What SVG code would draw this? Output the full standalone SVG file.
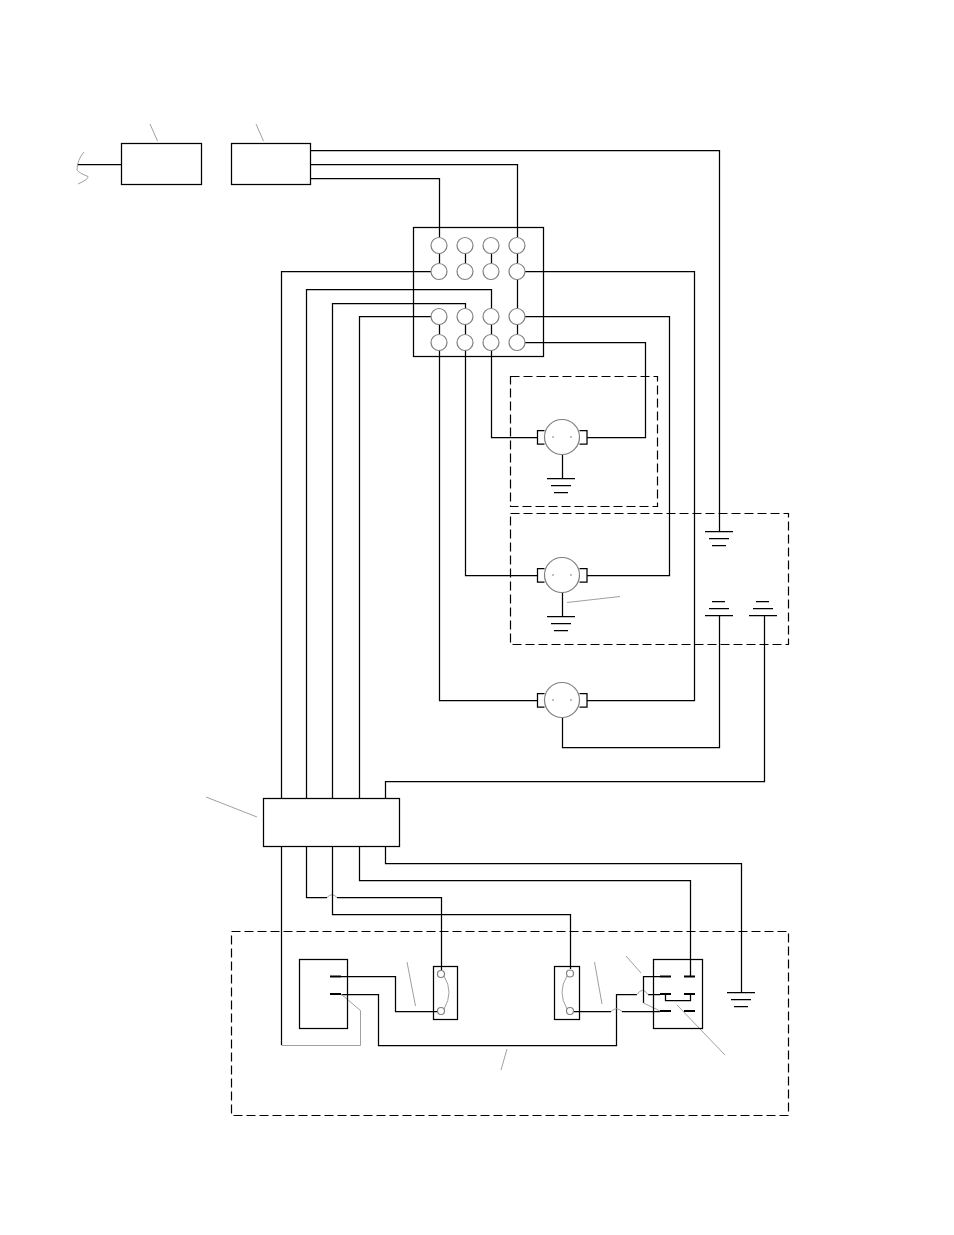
<svg xmlns="http://www.w3.org/2000/svg" width="954" height="1235" viewBox="0 0 954 1235">
<style>
.k{fill:none;stroke:#000;stroke-width:1.25}
.f{fill:#fff;stroke:#000;stroke-width:1.25}
.d{fill:none;stroke:#000;stroke-width:1.2;stroke-dasharray:9 4}
.g{fill:none;stroke:#a0a0a0;stroke-width:1}
.c{fill:#fff;stroke:#808080;stroke-width:1.2}
.t{fill:none;stroke:#000;stroke-width:2}
.p{fill:#aaa;stroke:none}
</style>
<defs>
<g id="gnd"><path class="k" d="M-14 0.500H14M-10 7.500H10M-7 14.500H7"/></g>
<g id="gndup"><path class="k" d="M-14 0.500H14M-10 -6.500H10M-7 -13.500H6"/></g>
<g id="motor">
<path class="k" d="M-17.500 -6.500H-24.500V7H-17.500M17.500 -6.500H25V7H17.500"/>
<circle class="c" r="17.500"/>
<circle class="p" cx="-9" r="1"/><circle class="p" cx="9" r="1"/>
</g>
</defs>
<rect width="954" height="1235" fill="#fff"/>
<g id="enclosures">
<rect class="d" x="510.500" y="376.500" width="147" height="130"/>
<rect class="d" x="510.500" y="513.500" width="278" height="131"/>
<rect class="d" x="231.500" y="931.500" width="557" height="184"/>
</g>
<g id="terminal-frame"><rect class="k" x="413.500" y="227.500" width="130" height="129"/></g>
<g id="connectors">
<path class="k" d="M77 164.500H121.500"/>
<path class="k" d="M310.500 150.500H719.500V531.500"/>
<path class="k" d="M310.500 164.500H517.500V237"/>
<path class="k" d="M310.500 178.500H439.500V237"/>
<path class="k" d="M439.500 253V263M465.500 253V263M491.500 253V263M517.500 253V263M517.500 279V308M439.500 324V334M465.500 324V334M491.500 324V334M517.500 324V334"/>
<path class="k" d="M281.500 798.500V271.500H431"/>
<path class="k" d="M306.500 798.500V289.500H491.500V308"/>
<path class="k" d="M332.500 798.500V303.500H465.500V308"/>
<path class="k" d="M359.500 798.500V316.500H431"/>
<path class="k" d="M525 271.500H694.500V700.500H587"/>
<path class="k" d="M525 316.500H669.500V575.500H587"/>
<path class="k" d="M525 342.500H645.500V437.500H587"/>
<path class="k" d="M439.500 350V700.500H537"/>
<path class="k" d="M465.500 350V575.500H537"/>
<path class="k" d="M491.500 350V437.500H537"/>
<path class="k" d="M562.500 455V478M562.500 593V616"/>
<path class="k" d="M562.500 717.500V747.500H719.500V615.500"/>
<path class="k" d="M764.500 615.500V781.500H385.500V798.500"/>
<path class="k" d="M281.500 846.500V1045"/>
<path class="k" d="M306.500 846.500V897.500H327M337 897.500H441.500V970"/>
<path class="g" d="M327 897.500Q332 892 337 897.500"/>
<path class="k" d="M332.500 846.500V914.500H570.500V969"/>
<path class="k" d="M359.500 846.500V880.500H690.500V976"/>
<path class="k" d="M385.500 846.500V863.500H741.500V992"/>
<path class="k" d="M341 976.500H395.500V1011.500H437"/>
<path class="k" d="M341 994.500H378.500V1045.500H616.500V994.500H637M648 994.500H660"/>
<path class="g" d="M637 994.500Q642.500 986 648 994.500"/>
<path class="k" d="M574 1011.500H611M622 1011.500H660"/>
<path class="g" d="M611 1011.500Q616.500 1006 622 1011.500"/>
<path class="k" d="M660 976.500H643.500V1003"/>
<path class="g" d="M643.500 1003L660 1011"/>
<path class="k" d="M665.500 994.500V1000.500H690.500V994.500"/>
<path class="g" d="M281.500 1045.500H360.500V1010.500L341 994"/>
</g>
<g id="leaders">
<path class="g" d="M150 124L157.500 141M256 124L263.500 141M206 797L257 817M407 962L415.500 1006M594.500 962L602 1004M626 956L641 973M677 1005L725 1055M507 1049L501 1070M567 602.500L620 596.500"/>
<path class="g" d="M84 152Q77 160 77 170Q79 173 88 176.500Q89 179 78 184"/>
</g>
<g id="box-1"><rect class="f" x="121.500" y="143.500" width="80" height="41"/></g>
<g id="box-2"><rect class="f" x="231.500" y="143.500" width="79" height="41"/></g>
<g id="terminals">
<circle class="c" cx="439" cy="245.500" r="8"/><circle class="c" cx="465" cy="245.500" r="8"/><circle class="c" cx="491" cy="245.500" r="8"/><circle class="c" cx="517" cy="245.500" r="8"/>
<circle class="c" cx="439" cy="271.500" r="8"/><circle class="c" cx="465" cy="271.500" r="8"/><circle class="c" cx="491" cy="271.500" r="8"/><circle class="c" cx="517" cy="271.500" r="8"/>
<circle class="c" cx="439" cy="316.500" r="8"/><circle class="c" cx="465" cy="316.500" r="8"/><circle class="c" cx="491" cy="316.500" r="8"/><circle class="c" cx="517" cy="316.500" r="8"/>
<circle class="c" cx="439" cy="342.500" r="8"/><circle class="c" cx="465" cy="342.500" r="8"/><circle class="c" cx="491" cy="342.500" r="8"/><circle class="c" cx="517" cy="342.500" r="8"/>
</g>
<g id="motor-1"><use href="#motor" x="562" y="437"/></g>
<g id="motor-2"><use href="#motor" x="562" y="575"/></g>
<g id="motor-3"><use href="#motor" x="562" y="700"/></g>
<g id="ground-1"><use href="#gnd" x="561" y="478"/></g>
<g id="ground-2"><use href="#gnd" x="561" y="616"/></g>
<g id="ground-3"><use href="#gnd" x="719" y="531"/></g>
<g id="ground-4"><use href="#gndup" x="719" y="615"/></g>
<g id="ground-5"><use href="#gndup" x="763" y="615"/></g>
<g id="ground-6"><use href="#gnd" x="741" y="992"/></g>
<g id="box-3"><rect class="f" x="263.500" y="798.500" width="136" height="48"/></g>
<g id="plug-left">
<rect class="k" x="299.500" y="959.500" width="48" height="69"/>
<path class="t" d="M330 976.500H341M330 994H341"/>
</g>
<g id="switch-1">
<rect class="k" x="433.500" y="966.500" width="24" height="53"/>
<path class="g" d="M444 976Q454 992 444 1009"/>
<circle class="c" cx="441" cy="974" r="3.500"/><circle class="c" cx="441" cy="1011" r="3.500"/>
</g>
<g id="switch-2">
<rect class="k" x="554.500" y="966.500" width="25" height="53"/>
<path class="g" d="M567 976Q557 992 567 1009"/>
<circle class="c" cx="570" cy="973.500" r="3.500"/><circle class="c" cx="570" cy="1011" r="3.500"/>
</g>
<g id="relay">
<rect class="k" x="653.500" y="959.500" width="49" height="69"/>
<path class="t" d="M660 976.500H671M684 976.500H695M660 994H671M684 994H695M660 1011H671M684 1011H695"/>
</g>
</svg>
